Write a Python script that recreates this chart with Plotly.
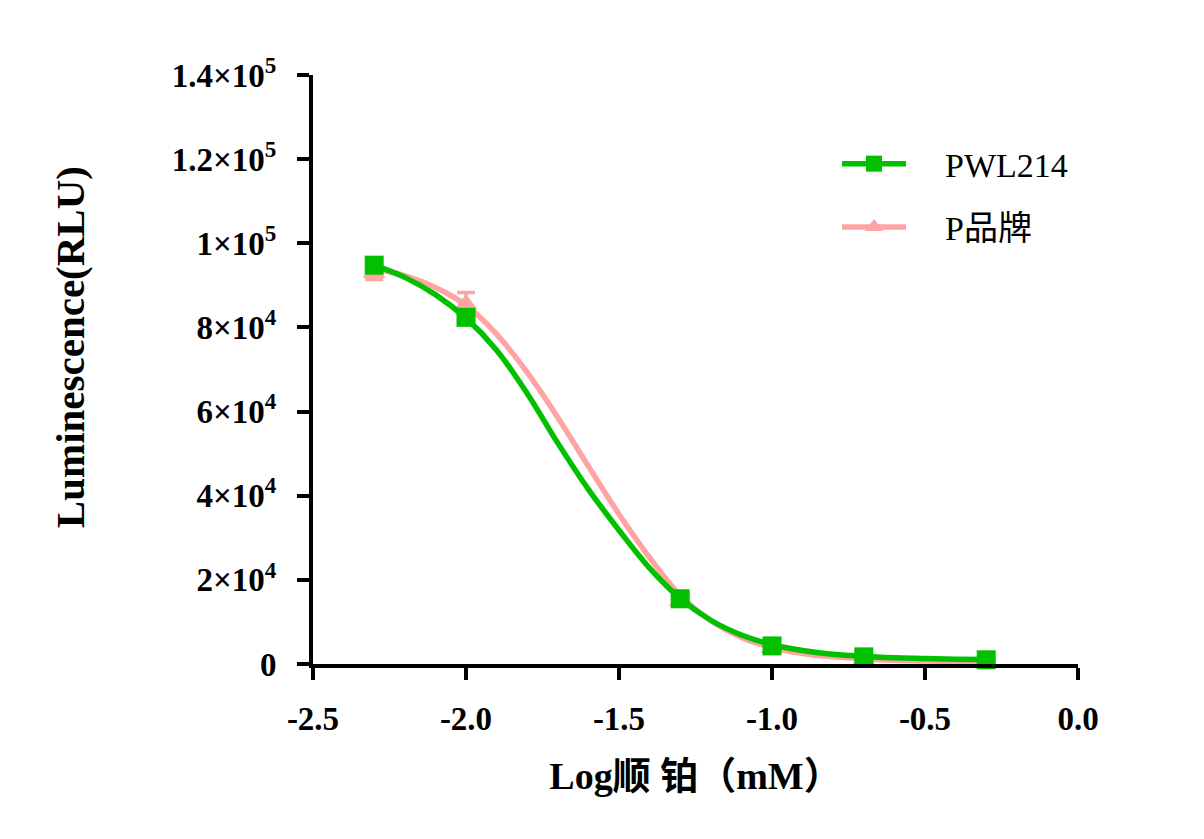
import plotly.graph_objects as go

# ---- data ----
log_conc = [-2.3, -2.0, -1.3, -1.0, -0.7, -0.3]

pwl_mean = [94800, 82400, 15500, 4300, 1700, 1000]

p_mean = [93000, 85500, 15000, 3800, 1000, 400]
p_err = [1600, 2800, 300, 200, 150, 100]

# fitted curves
curve_x = [-2.3, -2.2, -2.1, -2.0, -1.9, -1.8, -1.7, -1.6, -1.5, -1.4, -1.3,
           -1.2, -1.1, -1.0, -0.9, -0.8, -0.7, -0.6, -0.5, -0.4, -0.3]
pwl_curve = [94800, 91900, 87800, 82200, 74600, 64300, 52500, 41500, 31800,
             22800, 15600, 10400, 6900, 4600, 3200, 2300, 1800, 1500, 1300,
             1150, 1050]
p_curve = [94000, 92300, 89500, 85300, 78400, 69300, 58600, 47000, 35600,
           25300, 16300, 10300, 6300, 3900, 2500, 1700, 1200, 900, 700, 600,
           500]

x_ticks = [-2.5, -2.0, -1.5, -1.0, -0.5, 0.0]
x_ticktext = ["-2.5", "-2.0", "-1.5", "-1.0", "-0.5", "0.0"]
y_ticks = [0, 20000, 40000, 60000, 80000, 100000, 120000, 140000]
y_ticktext = ["0", "2×10<sup>4</sup>", "4×10<sup>4</sup>", "6×10<sup>4</sup>",
              "8×10<sup>4</sup>", "1×10<sup>5</sup>", "1.2×10<sup>5</sup>",
              "1.4×10<sup>5</sup>"]

series_names = ["PWL214", "P品牌"]
x_title = "Log顺 铂（mM）"
y_title = "Luminescence(RLU)"
GREEN = "#00C000"
PINK = "#FFA3A3"
SERIF = "Liberation Serif, Times New Roman, Noto Sans CJK SC, serif"
NB = "\u00a0\u00a0\u00a0\u00a0"

fig = go.Figure()

# P品牌 (drawn first, behind)
fig.add_trace(go.Scatter(x=curve_x, y=p_curve, mode="lines",
                         line=dict(color=PINK, width=5.5, shape="spline"),
                         showlegend=False, hoverinfo="skip", cliponaxis=False))
fig.add_trace(go.Scatter(x=log_conc, y=p_mean, mode="markers",
                         marker=dict(symbol="triangle-up", size=20, color=PINK),
                         error_y=dict(type="data", array=p_err, color=PINK,
                                      thickness=3.5, width=9),
                         showlegend=False, cliponaxis=False))
# PWL214
fig.add_trace(go.Scatter(x=curve_x, y=pwl_curve, mode="lines",
                         line=dict(color=GREEN, width=5.5, shape="spline"),
                         showlegend=False, hoverinfo="skip", cliponaxis=False))
fig.add_trace(go.Scatter(x=log_conc, y=pwl_mean, mode="markers",
                         marker=dict(symbol="square", size=19, color=GREEN),
                         showlegend=False, cliponaxis=False))

# legend entries
fig.add_trace(go.Scatter(x=[None], y=[None], mode="lines+markers",
                         name=NB + series_names[0], legendgroup="a",
                         line=dict(color=GREEN, width=5.5),
                         marker=dict(symbol="square", size=16, color=GREEN)))
fig.add_trace(go.Scatter(x=[None], y=[None], mode="lines+markers",
                         name=NB + series_names[1], legendgroup="b",
                         line=dict(color=PINK, width=5.5),
                         marker=dict(symbol="triangle-up", size=16, color=PINK)))

axis_common = dict(
    showgrid=False, zeroline=False, showline=True, linecolor="black",
    linewidth=4, ticks="outside", ticklen=12, tickwidth=4, tickcolor="black",
    tickfont=dict(family=SERIF, size=33, color="black", weight="bold"),
)

fig.update_layout(
    width=1204, height=839,
    margin=dict(l=305, r=134, t=67, b=183),
    paper_bgcolor="white", plot_bgcolor="white",
    xaxis=dict(range=[-2.5, 0.0], tickmode="array", tickvals=x_ticks,
               ticktext=x_ticktext, ticklabelstandoff=10,
               title=dict(text=x_title, standoff=28,
                          font=dict(family=SERIF, size=38, color="black",
                                    weight="bold")),
               **axis_common),
    yaxis=dict(range=[0, 140000], tickmode="array", tickvals=y_ticks,
               ticktext=y_ticktext, ticklabelstandoff=14,
               **axis_common),
    annotations=[dict(text=y_title, textangle=-90, showarrow=False,
                      xref="paper", yref="paper", x=-0.3176, y=0.538,
                      xanchor="center", yanchor="middle",
                      font=dict(family=SERIF, size=41, color="black",
                                weight="bold"))],
    legend=dict(x=0.685, y=0.898, xanchor="left", yanchor="top",
                bgcolor="rgba(0,0,0,0)", itemwidth=64, tracegroupgap=16,
                font=dict(family=SERIF, size=34, color="black")),
    showlegend=True,
)

fig.write_html("out.html")
